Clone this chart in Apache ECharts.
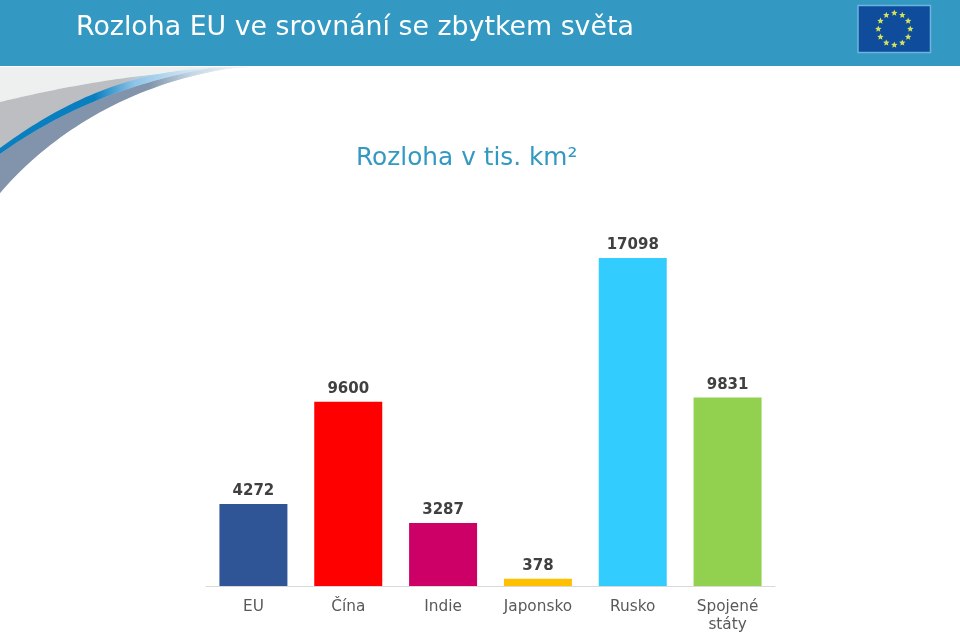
<!DOCTYPE html>
<html>
<head>
<meta charset="utf-8">
<style>
    html, body { margin: 0; padding: 0; background: #fff; }
    #chart { width: 960px; height: 633px; }
</style>
<script src="https://cdn.jsdelivr.net/npm/echarts@6/dist/echarts.min.js"></script>
</head>
<body>
<div id="chart"></div>
<script>
const categories = ['EU', 'Čína', 'Indie', 'Japonsko', 'Rusko', 'Spojené\nstáty'];
const areas = [4272, 9600, 3287, 378, 17098, 9831];
const barColors = ['#2F5597', '#FF0000', '#CC0066', '#FFC000', '#33CCFF', '#92D050'];

const FONT = '"DejaVu Sans", Verdana, sans-serif';

// the stars of the flag in the header
function flagStars(cx, cy, ring, r) {
    const stars = [];
    for (let i = 0; i < 12; i++) {
        const a = i * Math.PI / 6;
        const sx = cx + ring * Math.sin(a), sy = cy - ring * Math.cos(a);
        const points = [];
        for (let k = 0; k < 10; k++) {
            const b = k * Math.PI / 5, d = k % 2 ? r * 0.45 : r;
            points.push([sx + d * Math.sin(b), sy - d * Math.cos(b)]);
        }
        stars.push({type: 'polygon', shape: {points: points}, style: {fill: '#D4E35A'}, silent: true});
    }
    return stars;
}

// sample a cubic curve, graphic polygons only take points
function curve(p0, c1, c2, p3) {
    const pts = [];
    for (let i = 0; i <= 40; i++) {
        const t = i / 40, u = 1 - t;
        pts.push([
            u*u*u*p0[0] + 3*u*u*t*c1[0] + 3*u*t*t*c2[0] + t*t*t*p3[0],
            u*u*u*p0[1] + 3*u*u*t*c1[1] + 3*u*t*t*c2[1] + t*t*t*p3[1]
        ]);
    }
    return pts;
}

function fade(stops) {
    return {
        type: 'linear', x: 0, y: 0, x2: 1, y2: 0,
        colorStops: stops.map(s => ({offset: s[0], color: s[1]}))
    };
}

const swooshTop = curve([0, 102], [45, 91], [100, 80], [158, 74]);
const swooshLow = curve([0, 193], [45, 140], [125, 82], [240, 67]);
const stripeLow = curve([0, 154], [45, 122], [110, 86], [210, 68]);
const stripeTop = curve([210, 68], [125, 72], [60, 104], [0, 148]);

let myChart = echarts.init(document.getElementById('chart'));
myChart.setOption({
    animation: false,
    backgroundColor: '#fff',
    title: [
        {
            text: 'Rozloha EU ve srovnání se zbytkem světa',
            left: 76, top: 15, padding: 0,
            textStyle: {color: '#fff', fontFamily: FONT, fontSize: 26.8, fontWeight: 'normal'}
        },
        {
            text: 'Rozloha v tis. km²',
            left: 356, top: 146, padding: 0,
            textStyle: {color: '#3399C2', fontFamily: FONT, fontSize: 24.8, fontWeight: 'normal'}
        }
    ],
    grid: {left: 206, width: 569, top: 240.7, height: 345.3, outerBoundsMode: 'none'},
    xAxis: {
        type: 'category',
        data: categories,
        axisLine: {lineStyle: {color: '#D9D9D9', width: 1}},
        axisTick: {show: false},
        axisLabel: {color: '#595959', fontFamily: FONT, fontSize: 15.3, lineHeight: 18, margin: 12, interval: 0}
    },
    yAxis: {type: 'value', min: 0, max: 18000, show: false},
    series: [{
        type: 'bar',
        barWidth: 68,
        data: areas.map((v, i) => ({value: v, itemStyle: {color: barColors[i]}})),
        label: {
            show: true,
            position: 'top',
            distance: 5,
            color: '#404040',
            fontFamily: FONT,
            fontSize: 15,
            fontWeight: 'bold'
        }
    }],
    graphic: [
        {type: 'rect', shape: {x: 0, y: 0, width: 960, height: 66}, style: {fill: '#3399C2'}, silent: true, z: -10},
        // swoosh under the header
        {type: 'polygon', z: -9, silent: true, shape: {points: [[0, 67], [250, 67], [158, 74]].concat(swooshTop.slice().reverse())}, style: {fill: '#EEF0F0'}},
        {type: 'polygon', z: -8, silent: true,
            shape: {points: swooshTop.concat([[210, 68]], swooshLow.slice().reverse())},
            style: {fill: fade([[0, '#BDBEC1'], [0.5, '#BDBEC1'], [0.66, '#B5D6EE'], [1, '#EEF4F9']])}},
        {type: 'polygon', z: -7, silent: true,
            shape: {points: swooshLow.concat(stripeLow.slice().reverse())},
            style: {fill: fade([[0, '#8294AB'], [0.62, '#8294AB'], [0.8, '#C5D6E6'], [1, '#F4F7FA']])}},
        {type: 'polygon', z: -6, silent: true,
            shape: {points: stripeLow.concat(stripeTop)},
            style: {fill: fade([[0, '#0A7FC0'], [0.45, '#0A7FC0'], [0.64, '#8EC4E8'], [1, '#EAF2F8']])}},
        // flag
        {type: 'rect', z: -5, silent: true, shape: {x: 858, y: 5.5, width: 72.5, height: 47}, style: {fill: '#0F4C9C', stroke: '#6DB4DE', lineWidth: 1.5}},
        {type: 'group', z: -4, silent: true, children: flagStars(894.3, 29, 16, 3.4)}
    ]
});
</script>
</body>
</html>
